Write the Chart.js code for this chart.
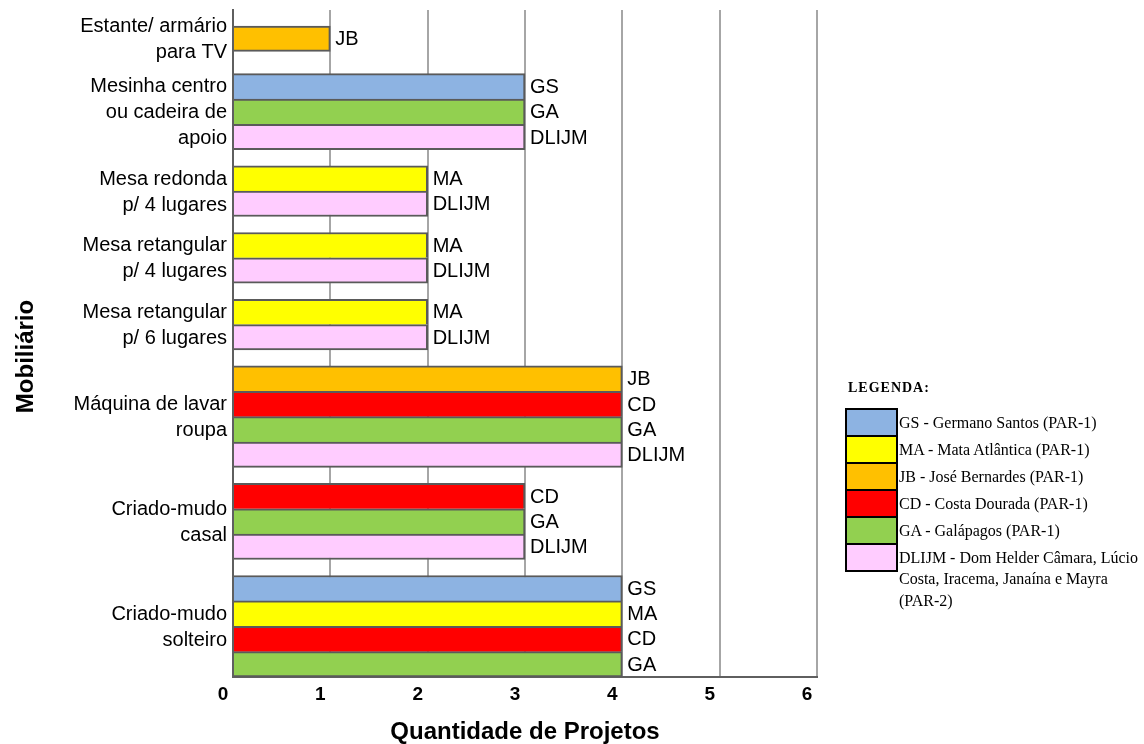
<!DOCTYPE html>
<html lang="pt">
<head>
<meta charset="utf-8">
<title>Mobiliário por projeto</title>
<script src="https://cdn.jsdelivr.net/npm/chart.js@4.4.1/dist/chart.umd.min.js"></script>
<style>
  html, body { margin: 0; padding: 0; background: #fff; }
  #wrap { position: relative; width: 1144px; height: 744px; }
  #grafico { position: absolute; left: 0; top: 0; }
  .leg { position: absolute; font-family: "Liberation Serif", "Times New Roman", serif; color: #000; }
  .leg-titulo { font-size: 14px; font-weight: bold; letter-spacing: 1px; line-height: 16px; }
  .leg-caixa { box-sizing: border-box; width: 53px; height: 29px; border: 2px solid #000; }
  .leg-texto { font-size: 16px; line-height: 21.5px; width: 244px; }
</style>
</head>
<body>
<div id="wrap">
  <canvas id="grafico" width="1144" height="744"></canvas>
</div>
<script>
// itens de mobiliário (quebras de linha como no eixo)
const grupos = [
  'Estante/ armário\npara TV',
  'Mesinha centro\nou cadeira de\napoio',
  'Mesa redonda\np/ 4 lugares',
  'Mesa retangular\np/ 4 lugares',
  'Mesa retangular\np/ 6 lugares',
  'Máquina de lavar\nroupa',
  'Criado-mudo\ncasal',
  'Criado-mudo\nsolteiro'
];
// projetos em cada item, de cima para baixo
const projetosPorGrupo = [
  ['JB'],
  ['GS', 'GA', 'DLIJM'],
  ['MA', 'DLIJM'],
  ['MA', 'DLIJM'],
  ['MA', 'DLIJM'],
  ['JB', 'CD', 'GA', 'DLIJM'],
  ['CD', 'GA', 'DLIJM'],
  ['GS', 'MA', 'CD', 'GA']
];
const quantidades = [
  [1],
  [3, 3, 3],
  [2, 2],
  [2, 2],
  [2, 2],
  [4, 4, 4, 4],
  [3, 3, 3],
  [4, 4, 4, 4]
];
const siglas = ['GS', 'MA', 'JB', 'CD', 'GA', 'DLIJM'];
const nomes = [
  'Germano Santos (PAR-1)',
  'Mata Atlântica (PAR-1)',
  'José Bernardes (PAR-1)',
  'Costa Dourada (PAR-1)',
  'Galápagos (PAR-1)',
  'Dom Helder Câmara, Lúcio Costa, Iracema, Janaína e Mayra (PAR-2)'
];
const cores = ['#8db3e2', '#ffff00', '#ffc000', '#ff0000', '#92d050', '#ffccff'];
const marcasX = [0, 1, 2, 3, 4, 5, 6];

const SANS = '"Liberation Sans", Arial, sans-serif';
// folga antes de cada grupo, em alturas de barra (a segunda é mais larga)
const FOLGAS = [0.63, 0.88, 0.63, 0.63, 0.63, 0.63, 0.63, 0.63];

// uma linha por barra; cada grupo começa depois da sua folga
const linhas = [];
const faixas = [];
let pos = 0;
grupos.forEach((g, gi) => {
  pos += FOLGAS[gi];
  const ini = pos;
  projetosPorGrupo[gi].forEach((sig, k) => {
    linhas.push({
      y: pos + 0.5,
      x: quantidades[gi][k],
      sigla: sig,
      ultima: k === projetosPorGrupo[gi].length - 1
    });
    pos += 1;
  });
  faixas.push({ ini: ini, fim: pos, texto: g });
});
const totalY = pos;

const rotulos = {
  id: 'rotulos',
  afterDraw(chart) {
    const ctx = chart.ctx;
    const y = chart.scales.y;
    const area = chart.chartArea;
    ctx.save();
    ctx.fillStyle = '#000';
    ctx.font = '20px ' + SANS;

    // sigla do projeto na ponta de cada barra
    ctx.textAlign = 'left';
    ctx.textBaseline = 'middle';
    chart.getDatasetMeta(0).data.forEach((bar, i) => {
      ctx.fillText(linhas[i].sigla, bar.x + 5, bar.y + 1);
    });

    // nome do item, centrado no seu grupo de barras
    ctx.textAlign = 'right';
    faixas.forEach(f => {
      const partes = f.texto.split('\n');
      const meio = (y.getPixelForValue(f.ini) + y.getPixelForValue(f.fim)) / 2 + 1;
      partes.forEach((p, k) => {
        ctx.fillText(p, area.left - 6, meio + (k - (partes.length - 1) / 2) * 26);
      });
    });

    // títulos dos eixos
    ctx.font = 'bold 24px ' + SANS;
    ctx.textAlign = 'center';
    ctx.textBaseline = 'alphabetic';
    ctx.fillText('Quantidade de Projetos', (area.left + area.right) / 2, 739);
    ctx.translate(33, (area.top + area.bottom) / 2 + 13);
    ctx.rotate(-Math.PI / 2);
    ctx.fillText('Mobiliário', 0, 0);
    ctx.restore();
  }
};

new Chart(document.getElementById('grafico'), {
  type: 'bar',
  data: {
    datasets: [{
      data: linhas.map(l => ({ x: l.x, y: l.y })),
      backgroundColor: linhas.map(l => cores[siglas.indexOf(l.sigla)]),
      borderColor: '#5a5a5a',
      borderWidth: c => ({ top: 2, right: 2, bottom: linhas[c.dataIndex].ultima ? 2 : 0, left: 0 }),
      barPercentage: 1,
      categoryPercentage: 1
    }]
  },
  options: {
    indexAxis: 'y',
    responsive: false,
    animation: false,
    layout: { padding: { top: 10, right: 327, bottom: 0, left: 0 } },
    plugins: { legend: { display: false }, tooltip: { enabled: false } },
    scales: {
      x: {
        type: 'linear',
        min: marcasX[0],
        max: marcasX[marcasX.length - 1],
        afterBuildTicks: s => { s.ticks = marcasX.map(v => ({ value: v })); },
        afterFit: s => { s.height = 67; },
        grid: {
          color: c => (c.tick && c.tick.value === 0) ? 'rgba(0,0,0,0)' : '#a6a6a6',
          lineWidth: 2,
          drawTicks: false
        },
        border: { color: '#5f5f5f', width: 2 },
        ticks: {
          color: '#000',
          font: { family: SANS, size: 19, weight: 'bold' },
          padding: 6,
          labelOffset: -10
        }
      },
      y: {
        type: 'linear',
        reverse: true,
        offset: false,
        min: 0,
        max: totalY,
        afterFit: s => { s.width = 233; },
        grid: { display: false, offset: false },
        border: { color: '#5f5f5f', width: 2 },
        ticks: { display: false }
      }
    }
  },
  plugins: [rotulos]
});

// legenda à direita
const wrap = document.getElementById('wrap');
const titulo = document.createElement('div');
titulo.className = 'leg leg-titulo';
titulo.style.left = '848px';
titulo.style.top = '380px';
titulo.textContent = 'LEGENDA:';
wrap.appendChild(titulo);

siglas.forEach((s, i) => {
  const topo = 408 + i * 27;
  const caixa = document.createElement('div');
  caixa.className = 'leg leg-caixa';
  caixa.style.left = '845px';
  caixa.style.top = topo + 'px';
  caixa.style.background = cores[i];
  wrap.appendChild(caixa);

  const texto = document.createElement('div');
  texto.className = 'leg leg-texto';
  texto.style.left = '899px';
  texto.style.top = (topo + 14.5 - 10.75) + 'px';
  texto.textContent = s + ' - ' + nomes[i];
  wrap.appendChild(texto);
});
</script>
</body>
</html>
